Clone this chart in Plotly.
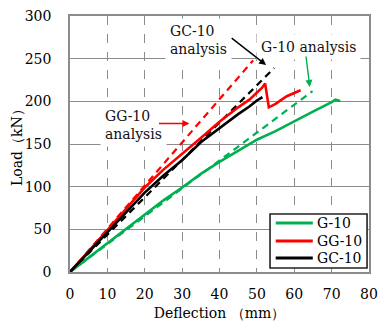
import plotly.graph_objects as go

# Load–deflection test data (deflection in mm, load in kN)
g10_defl = [0, 5, 10, 15, 20, 25, 30, 35, 40, 45, 50, 55, 60, 65, 70, 71, 72.3]
g10_load = [0, 17, 34, 51, 67, 84, 99, 115, 129, 142, 155, 165, 177, 188, 199, 202, 200.5]

gg10_defl = [0, 5, 10, 15, 20, 25, 30, 35, 40, 45, 48, 50, 51.4, 52.2, 53.2, 55, 58, 61.7]
gg10_load = [0, 24, 49, 74, 99, 120, 138, 157, 176, 193, 202, 210, 216, 221, 193, 197, 206, 213]

gc10_defl = [0, 5, 10, 15, 20, 25, 30, 35, 40, 45, 48, 50, 51.5]
gc10_load = [0, 23, 47, 70, 93, 113, 131, 152, 169, 185, 194, 201, 205]

# Analytical predictions (linear)
g10_an_defl = [0, 64.9]
g10_an_load = [0, 212]
gg10_an_defl = [0, 49.0]
gg10_an_load = [0, 248]
gc10_an_defl = [0, 54.6]
gc10_an_load = [0, 239]

series_names = ["G-10", "GG-10", "GC-10"]
x_ticks = [0, 10, 20, 30, 40, 50, 60, 70, 80]
y_ticks = [0, 50, 100, 150, 200, 250, 300]

GREEN = "#00b050"
RED = "#ff0000"
BLACK = "#000000"
GRID = "#8c8c8c"
FONT = "DejaVu Serif"
colors = [GREEN, RED, BLACK]

fig = go.Figure()

for xs, ys, col in [(g10_an_defl, g10_an_load, GREEN),
                    (gg10_an_defl, gg10_an_load, RED),
                    (gc10_an_defl, gc10_an_load, BLACK)]:
    fig.add_trace(go.Scatter(x=xs, y=ys, mode="lines", showlegend=False,
                             line=dict(color=col, width=2.2, dash="7px,5px")))

for xs, ys, col, name in [(g10_defl, g10_load, GREEN, series_names[0]),
                          (gg10_defl, gg10_load, RED, series_names[1]),
                          (gc10_defl, gc10_load, BLACK, series_names[2])]:
    fig.add_trace(go.Scatter(x=xs, y=ys, mode="lines", name=name, showlegend=False,
                             line=dict(color=col, width=2.6)))

annotations = []
# text labels with white boxes over the grid
for txt, x, y in [("GC-10<br>analysis", 34.3, 271.9),
                  ("GG-10<br>analysis", 17.0, 172.3),
                  ("G-10 analysis", 63.8, 263.7)]:
    annotations.append(dict(text=txt, x=x, y=y, xref="x", yref="y", showarrow=False,
                            align="left", bgcolor="white", borderpad=4,
                            font=dict(family=FONT, size=14, color="#111")))
# pointer arrows
for hx, hy, tx, ty, col in [(52.47, 242.6, 42.86, 275.4, BLACK),
                            (64.16, 216.8, 63.1, 254.3, GREEN),
                            (31.95, 174.0, 23.4, 174.0, RED)]:
    annotations.append(dict(text="", x=hx, y=hy, ax=tx, ay=ty, xref="x", yref="y",
                            axref="x", ayref="y", showarrow=True, arrowhead=2,
                            arrowsize=1, arrowwidth=1.4, arrowcolor=col,
                            standoff=0, startstandoff=0))

# key box in the lower-right corner of the plot
shapes = [dict(type="rect", xref="paper", yref="paper", x0=0.669, x1=0.9935,
               y0=0.0156, y1=0.2266, fillcolor="white",
               line=dict(color="#222", width=1.6), layer="above")]
row_y = [0.1914, 0.1211, 0.0547]
for name, col, ry in zip(series_names, colors, row_y):
    shapes.append(dict(type="line", xref="paper", yref="paper", x0=0.688, x1=0.812,
                       y0=ry, y1=ry, line=dict(color=col, width=3), layer="above"))
    annotations.append(dict(text=name, xref="paper", yref="paper", x=0.821, y=ry,
                            xanchor="left", yanchor="middle", showarrow=False,
                            font=dict(family=FONT, size=14, color="black")))

# y-axis title
annotations.append(dict(text="Load（kN）", xref="paper", yref="paper", x=0, y=0.5,
                        xshift=-53, textangle=-90, showarrow=False,
                        xanchor="center", yanchor="middle",
                        font=dict(family=FONT, size=14, color="black")))

fig.update_layout(
    width=385, height=326,
    margin=dict(l=70, r=7, t=16, b=54),
    paper_bgcolor="white", plot_bgcolor="white",
    font=dict(family=FONT, size=14, color="black"),
    annotations=annotations, shapes=shapes, showlegend=False,
)

fig.update_xaxes(range=[0, 80], tickvals=x_ticks, showgrid=True, gridcolor=GRID,
                 griddash="dash", gridwidth=1, showline=True, linecolor=GRID,
                 linewidth=1.5, mirror=True, zeroline=False, ticks="",
                 ticklabelstandoff=8,
                 title=dict(text="Deflection （mm）", standoff=8,
                            font=dict(family=FONT, size=14)))
fig.update_yaxes(range=[0, 300], tickvals=y_ticks, showgrid=True, gridcolor=GRID,
                 gridwidth=1.2, showline=True, linecolor=GRID, linewidth=1.5,
                 mirror=True, zeroline=False, ticks="", ticklabelstandoff=14)

fig.write_html("out.html")
